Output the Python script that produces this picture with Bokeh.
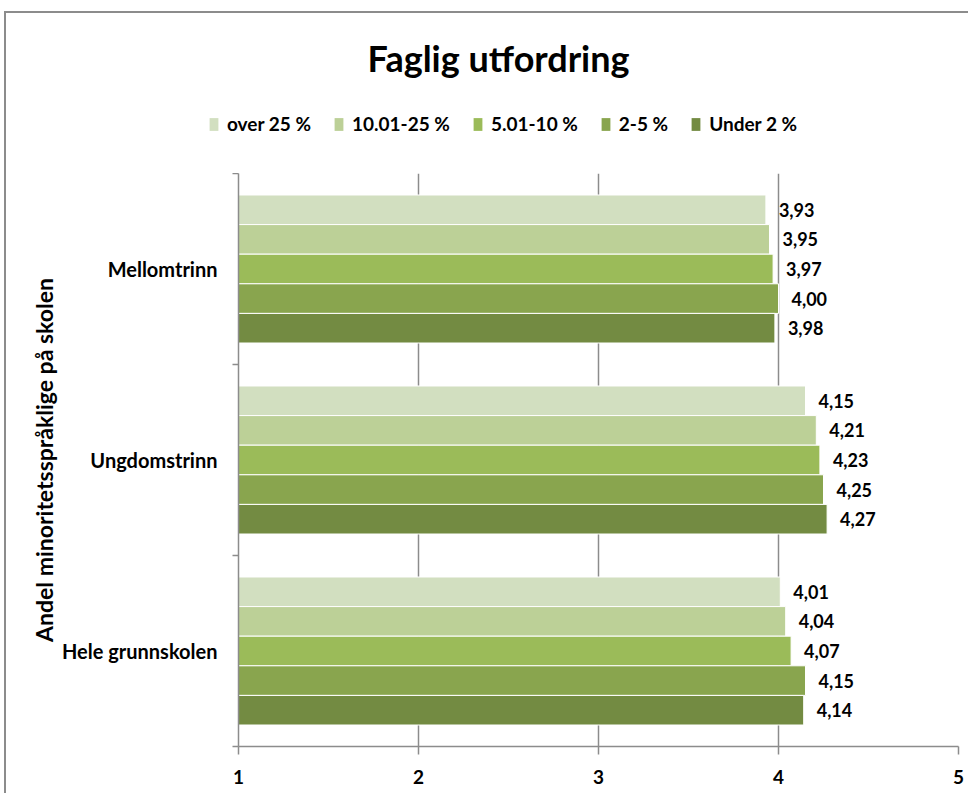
from bokeh.plotting import figure
from bokeh.layouts import column
from bokeh.models import (ColumnDataSource, Range1d, FixedTicker, LabelSet, Legend,
                          LegendItem, Label)
from bokeh.core.properties import value
from bokeh.embed import file_html
from bokeh.resources import INLINE

chart_title = "Faglig utfordring"
y_title = "Andel minoritetsspråklige på skolen"
categories = ["Mellomtrinn", "Ungdomstrinn", "Hele grunnskolen"]
series_names = ["over 25 %", "10.01-25 %", "5.01-10 %", "2-5 %", "Under 2 %"]
over_25 = [3.93, 4.15, 4.01]
pct_10_25 = [3.95, 4.21, 4.04]
pct_5_10 = [3.97, 4.23, 4.07]
pct_2_5 = [4.00, 4.25, 4.15]
under_2 = [3.98, 4.27, 4.14]
x_ticks = [1, 2, 3, 4, 5]
colors = ["#d2dfc0", "#bcd097", "#9bbb59", "#89a54e", "#738b42"]

series_values = [over_25, pct_10_25, pct_5_10, pct_2_5, under_2]
FONT = "Lato"
GRAY = "#8c8c8c"
W = 962
HEAD_H = 160
n_cat = len(categories)
n_ser = len(series_names)
cat_pos = [n_cat - 1 - i + 0.5 for i in range(n_cat)]
bar_h = 0.155

# ---------- header (title + legend) ----------
head = figure(width=W, height=HEAD_H, output_backend="svg", toolbar_location=None, title=None,
              x_range=Range1d(0, W), y_range=Range1d(HEAD_H, 0),
              min_border_left=0, min_border_right=0, min_border_top=0, min_border_bottom=0,
              background_fill_color="white", border_fill_color="white")
if "frame_align" in head.properties():
    head.frame_align = False
head.xaxis.visible = False
head.yaxis.visible = False
head.grid.visible = False
head.outline_line_color = None
head.add_layout(Label(x=492, y=44, text=chart_title, text_align="center",
                      text_baseline="alphabetic", text_font=FONT,
                      text_font_style="bold", text_font_size="36px", text_color="black"))

# ---------- main chart ----------
p = figure(width=W, height=620, output_backend="svg", toolbar_location=None, title=None,
           x_range=Range1d(x_ticks[0], x_ticks[-1]), y_range=Range1d(0, n_cat),
           min_border_left=232, min_border_right=10, min_border_top=0, min_border_bottom=47,
           background_fill_color="white", border_fill_color="white")
if "frame_align" in p.properties():
    p.frame_align = False

items = []
for j, (name, vals, col) in enumerate(zip(series_names, series_values, colors)):
    off = ((n_ser - 1) / 2 - j) * bar_h
    src = ColumnDataSource(dict(
        y=[c + off for c in cat_pos],
        right=vals,
        label=[f"{v:.2f}".replace(".", ",") for v in vals],
    ))
    p.hbar(y="y", left=x_ticks[0], right="right", height=bar_h, source=src,
           fill_color=col, line_color="white", line_width=1)
    p.add_layout(LabelSet(x="right", y="y", text="label", source=src, x_offset=13,
                          text_baseline="middle", text_font=value(FONT), text_font_style="bold",
                          text_font_size="18px", text_color="black"))
    # legend proxy in the header (a zero-size bar, only its legend swatch shows)
    proxy = head.hbar(y=[0], left=[0], right=[0], height=0, fill_color=col,
                      line_color=None)
    items.append(LegendItem(label=name, renderers=[proxy]))

legend = Legend(items=items, orientation="horizontal", location=(202, 38),
                glyph_width=11, glyph_height=16, label_standoff=8, spacing=22,
                padding=0, margin=0, border_line_color=None, background_fill_alpha=0,
                label_text_font=FONT, label_text_font_style="bold", label_text_font_size="19px",
                label_text_color="black", label_height=12)
head.add_layout(legend, "center")

# y axis
ya = p.yaxis[0]
ya.ticker = FixedTicker(ticks=cat_pos, minor_ticks=[float(i) for i in range(n_cat + 1)])
ya.major_label_overrides = {pos: cat for pos, cat in zip(cat_pos, categories)}
ya.major_tick_out = 0
ya.major_tick_in = 0
ya.minor_tick_out = 6
ya.minor_tick_in = 0
ya.minor_tick_line_color = GRAY
ya.minor_tick_line_width = 1.5
ya.axis_line_color = GRAY
ya.axis_line_width = 1.5
ya.major_label_standoff = 15
ya.major_label_text_font = FONT
ya.major_label_text_font_style = "bold"
ya.major_label_text_font_size = "20px"
ya.major_label_text_color = "black"
ya.axis_label = y_title
ya.axis_label_text_font = FONT
ya.axis_label_text_font_style = "bold"
ya.axis_label_text_font_size = "23px"
ya.axis_label_text_color = "black"
ya.axis_label_standoff = 1

# x axis
xa = p.xaxis[0]
xa.ticker = FixedTicker(ticks=x_ticks)
xa.major_tick_out = 8
xa.major_tick_in = 0
xa.major_tick_line_color = GRAY
xa.major_tick_line_width = 1.5
xa.minor_tick_line_color = None
xa.axis_line_color = GRAY
xa.axis_line_width = 1.5
xa.major_label_standoff = 15
xa.major_label_text_font = FONT
xa.major_label_text_font_style = "bold"
xa.major_label_text_font_size = "19px"
xa.major_label_text_color = "black"

p.xgrid.ticker = FixedTicker(ticks=x_ticks)
p.xgrid.grid_line_color = GRAY
p.xgrid.grid_line_width = 1.5
p.ygrid.visible = False
p.outline_line_color = None

layout = column(head, p, spacing=0)
layout.styles = {"border-top": "2px solid #8c8c8c", "border-left": "2px solid #8c8c8c",
                 "margin-left": "4px", "margin-top": "11px"}

open("out.html", "w").write(file_html(layout, INLINE))
